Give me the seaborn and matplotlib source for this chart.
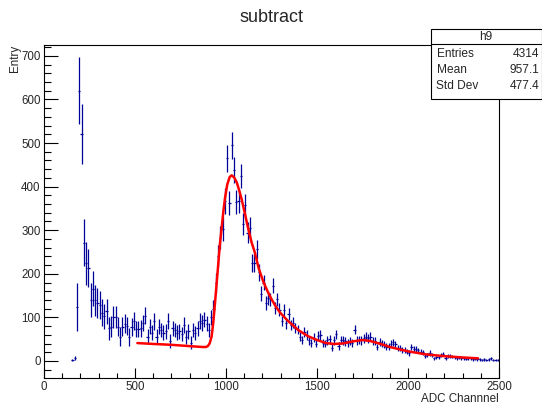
import numpy as np
import matplotlib
matplotlib.use("Agg")
import matplotlib.pyplot as plt
from matplotlib.ticker import MultipleLocator
from matplotlib.patches import Rectangle
from matplotlib.lines import Line2D
import seaborn as sns

# Histogram "h9": 12.5-wide ADC bins, first filled bin starts at 150
bin_start = 150.0
bin_width = 12.5
counts = [
    2, 7, 123, 620, 520, 271, 224, 213, 140, 166,
    139, 133, 128, 111, 102, 114, 75, 79, 101, 100,
    79, 56, 79, 85, 80, 55, 78, 91, 73, 73,
    75, 87, 104, 56, 79, 65, 91, 56, 79, 71,
    65, 68, 91, 45, 75, 71, 65, 68, 62, 83,
    56, 68, 42, 71, 64, 75, 91, 87, 95, 85,
    70, 100, 119, 179, 240, 283, 303, 367, 465, 362,
    495, 438, 365, 367, 425, 315, 357, 294, 306, 224,
    224, 256, 203, 154, 180, 134, 144, 141, 173, 121,
    142, 118, 92, 116, 86, 108, 83, 88, 75, 72,
    56, 48, 66, 60, 47, 41, 53, 40, 58, 60,
    41, 40, 47, 50, 30, 47, 61, 35, 48, 47,
    45, 41, 46, 41, 72, 47, 48, 47, 52, 56,
    52, 56, 45, 45, 32, 43, 40, 37, 33, 33,
    40, 43, 38, 29, 29, 25, 25, 21, 18, 33,
    27, 27, 24, 21, 20, 11, 14, 18, 14, 6,
    8, 8, 14, 16, 7, 11, 11, 10, 8, 6,
    8, 6, 6, 5, 6, 6, 4, 5, 4, 4,
    2, 4, 2, 4, 6, 2, 3, 2,
]
errors = [
    3, 4, 55, 77, 69, 54, 50, 43, 39, 40,
    36, 34, 32, 30, 29, 29, 26, 25, 26, 25,
    22, 21, 22, 22, 21, 20, 20, 21, 19, 19,
    19, 19, 20, 17, 18, 17, 19, 17, 18, 17,
    17, 17, 18, 16, 17, 17, 17, 17, 16, 18,
    16, 17, 15, 17, 16, 17, 18, 18, 18, 17,
    16, 18, 20, 23, 25, 26, 27, 29, 31, 28,
    31, 29, 27, 27, 28, 25, 26, 24, 24, 21,
    21, 22, 20, 17, 18, 16, 16, 16, 17, 14,
    15, 14, 12, 14, 12, 13, 12, 12, 11, 11,
    10, 10, 11, 11, 10, 10, 10, 9, 10, 11,
    9, 9, 10, 10, 8, 10, 11, 9, 10, 10,
    10, 9, 10, 9, 11, 10, 10, 10, 10, 10,
    10, 10, 9, 9, 8, 9, 9, 8, 8, 8,
    8, 8, 8, 7, 7, 7, 7, 6, 6, 7,
    7, 7, 6, 6, 6, 5, 5, 6, 5, 4,
    4, 4, 5, 5, 4, 4, 4, 4, 4, 3,
    4, 3, 3, 3, 3, 3, 3, 3, 3, 3,
    2, 3, 2, 3, 3, 2, 2, 2,
]
assert len(counts) == len(errors)

# Fitted function sampled along the fit range
fit_adc = [513, 600, 700, 800, 870, 890, 900, 910, 921, 930, 940, 950, 958,
           967, 976, 986, 995, 1007, 1020, 1031, 1045, 1059, 1072, 1086, 1105,
           1123, 1140, 1159, 1180, 1205, 1228, 1251, 1275, 1297, 1340, 1400,
           1450, 1500, 1550, 1590, 1640, 1700, 1750, 1790, 1850, 1900, 1950,
           2000, 2100, 2200, 2300, 2385]
fit_val = [41, 39, 37, 34, 32, 32, 34, 40, 56, 88, 135, 185, 225,
           270, 305, 345, 375, 405, 422, 426, 421, 410, 392, 371, 336,
           302, 273, 248, 212, 182, 160, 141, 124, 111, 92, 70,
           57, 48, 41, 39, 40, 45, 48, 46, 39, 32, 27,
           22, 15, 11, 8, 6]

stats_name = "h9"
stats_rows = [("Entries", "4314"), ("Mean", "957.1"), ("Std Dev", "477.4")]

sns.set_style("ticks")
plt.rcParams["font.family"] = ["Liberation Sans", "DejaVu Sans"]

W, H = 542, 407
fig = plt.figure(figsize=(W / 100, H / 100), dpi=100)
ax = fig.add_axes([44 / W, 1 - 377.5 / H, 455 / W, (377.5 - 45) / H])
ax.set_facecolor("white")

centers = bin_start + bin_width * (np.arange(len(counts)) + 0.5)
ax.errorbar(centers, counts, yerr=errors, xerr=bin_width / 2, fmt="none",
            ecolor="#000099", elinewidth=0.9, capsize=0, zorder=2)
sns.lineplot(x=fit_adc, y=fit_val, color="red", linewidth=1.8, ax=ax,
             sort=False, zorder=3)

ax.set_xlim(0, 2500)
ax.set_ylim(-38, 725)
ax.xaxis.set_major_locator(MultipleLocator(500))
ax.xaxis.set_minor_locator(MultipleLocator(100))
ax.yaxis.set_major_locator(MultipleLocator(100))
ax.yaxis.set_minor_locator(MultipleLocator(20))
ax.tick_params(which="both", direction="in", top=False, right=False,
               width=0.8, color="black", labelsize=8.3)
ax.tick_params(axis="x", which="major", length=7.2, pad=2.5)
ax.tick_params(axis="x", which="minor", length=3.6)
ax.tick_params(axis="y", which="major", length=9.8, pad=2.5)
ax.tick_params(axis="y", which="minor", length=4.9)
for s in ax.spines.values():
    s.set_linewidth(0.8)
    s.set_color("black")
ax.set_xlabel("")
ax.set_ylabel("")

fig.text(0.5, 1 - 17 / H, "subtract", ha="center", va="center", fontsize=13)
fig.text(499 / W, 1 - 399 / H, "ADC Channnel", ha="right", va="center",
         fontsize=8.4)
fig.text(15 / W, 1 - 45 / H, "Entry", rotation=90, ha="center", va="top",
         fontsize=8.4)

# statistics box
bx0, bx1 = 431 / W, 541.5 / W
by_top, by_bot = 1 - 29.3 / H, 1 - 99.3 / H
fig.add_artist(Rectangle((bx0, by_bot), bx1 - bx0, by_top - by_bot,
                         transform=fig.transFigure, facecolor="white",
                         edgecolor="black", linewidth=0.8, zorder=10))
sep_y = 1 - 44.3 / H
fig.add_artist(Line2D([bx0, bx1], [sep_y, sep_y], transform=fig.transFigure,
                      color="black", linewidth=0.8, zorder=11))
fig.text((bx0 + bx1) / 2, 1 - 37.5 / H, stats_name, ha="center", va="center",
         fontsize=8.6, zorder=12)
row_y = [54.3, 70.0, 85.7]
for (name, val), yy in zip(stats_rows, row_y):
    fig.text(436.5 / W, 1 - yy / H, name, ha="left", va="center",
             fontsize=8.6, zorder=12)
    fig.text(539 / W, 1 - yy / H, val, ha="right", va="center",
             fontsize=8.6, zorder=12)

fig.savefig("out.png", dpi=100)
